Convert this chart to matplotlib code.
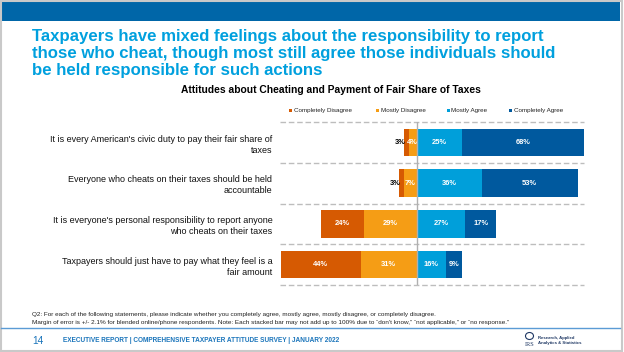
import matplotlib
matplotlib.use("Agg")
import matplotlib.pyplot as plt
from matplotlib.patches import Rectangle, Ellipse
from matplotlib.lines import Line2D

plt.rcParams['font.family'] = ['Liberation Sans', 'DejaVu Sans']

# data
statements = [
    "It is every American's civic duty to pay their fair share of\ntaxes",
    "Everyone who cheats on their taxes should be held\naccountable",
    "It is everyone's personal responsibility to report anyone\nwho cheats on their taxes",
    "Taxpayers should just have to pay what they feel is a\nfair amount",
]
completely_disagree = [3, 3, 24, 44]
mostly_disagree = [4, 7, 29, 31]
mostly_agree = [25, 36, 27, 16]
completely_agree = [68, 53, 17, 9]
series_names = ["Completely Disagree", "Mostly Disagree", "Mostly Agree", "Completely Agree"]

c_cd = "#D65A02"
c_md = "#F59D15"
c_ma = "#009FDA"
c_ca = "#00599E"
title_blue = "#00A0DE"
banner_blue = "#0066A8"
footer_blue = "#1B75BB"

W, H = 624, 352
fig = plt.figure(figsize=(W / 100, H / 100), dpi=100)


def fx(x):
    return x / W


def fy(y):
    return 1 - y / H


# page frame and banner
fig.patches.append(Rectangle((fx(1), fy(21)), fx(619), 20 / H, transform=fig.transFigure,
                             facecolor=banner_blue, edgecolor="none", zorder=0))
fig.patches.append(Rectangle((fx(0.5), fy(351)), fx(621), 350.5 / H, transform=fig.transFigure,
                             facecolor="none", edgecolor="#C9C9C9", linewidth=1.5, zorder=1))

# title
title_lines = [
    "Taxpayers have mixed feelings about the responsibility to report",
    "those who cheat, though most still agree those individuals should",
    "be held responsible for such actions",
]
for i, line in enumerate(title_lines):
    fig.text(fx(32), fy(36.7 + i * 16.7), line, color=title_blue, fontsize=12.1,
             fontweight="bold", ha="left", va="center")

fig.text(fx(330.5), fy(90), "Attitudes about Cheating and Payment of Fair Share of Taxes",
         fontsize=7.4, fontweight="bold", ha="center", va="center", color="black")

# legend
legend_items = [(289.3, c_cd), (376, c_md), (446.7, c_ma), (509.3, c_ca)]
for (lx, col), name in zip(legend_items, series_names):
    fig.patches.append(Rectangle((fx(lx), fy(111.7)), 3 / W, 3 / H, transform=fig.transFigure,
                                 facecolor=col, edgecolor="none"))
    fig.text(fx(lx + 4.5), fy(110.2), name, fontsize=4.5, ha="left", va="center", color="#222222")

# chart
ax = fig.add_axes([fx(280), fy(285), 304 / W, (285 - 122.3) / H])
ys = list(range(len(statements)))
bh = 0.68

left_md = [-v for v in mostly_disagree]
left_cd = [-(a + b) for a, b in zip(mostly_disagree, completely_disagree)]
ax.barh(ys, completely_disagree, left=left_cd, height=bh, color=c_cd, zorder=2)
ax.barh(ys, mostly_disagree, left=left_md, height=bh, color=c_md, zorder=2)
ax.barh(ys, mostly_agree, left=0, height=bh, color=c_ma, zorder=2)
ax.barh(ys, completely_agree, left=mostly_agree, height=bh, color=c_ca, zorder=2)

lab_kw = dict(fontsize=5.4, fontweight="bold", va="center", zorder=4)
for y in ys:
    cd, md = completely_disagree[y], mostly_disagree[y]
    ma, ca = mostly_agree[y], completely_agree[y]
    # disagree side
    cd_center = -md - cd / 2
    if cd <= 5:
        ax.text(cd_center - 3.3, y, f"{cd}%", ha="center", color="black", **lab_kw)
    else:
        ax.text(cd_center, y, f"{cd}%", ha="center", color="white", **lab_kw)
    md_center = -md / 2
    if md <= 5:
        ax.text(md_center - 0.5, y, f"{md}%", ha="center", color="white", **lab_kw)
    else:
        ax.text(md_center, y, f"{md}%", ha="center", color="white", **lab_kw)
    ax.text(ma / 2, y, f"{ma}%", ha="center", color="white", **lab_kw)
    ax.text(ma + ca / 2, y, f"{ca}%", ha="center", color="white", **lab_kw)

ax.set_xlim(-75.5, 92.5)
ax.set_ylim(3.5, -0.5)
for g in [-0.5, 0.5, 1.5, 2.5, 3.5]:
    ax.axhline(g, color="#BDBDBD", linewidth=1.0, linestyle=(0, (4, 2)), zorder=1, clip_on=False)
ax.axvline(0, color="#B0B0B0", linewidth=1.0, zorder=3)

ax.set_yticks(ys)
ax.set_yticklabels(statements, fontsize=6.5, linespacing=1.3, color="#111111")
ax.tick_params(axis="y", length=0, pad=5.5)
ax.set_xticks([])
for s in ax.spines.values():
    s.set_visible(False)
ax.patch.set_alpha(0)

# footnote
fig.text(fx(32), fy(314.3),
         "Q2: For each of the following statements, please indicate whether you completely agree, "
         "mostly agree, mostly disagree, or completely disagree.",
         fontsize=4.6, ha="left", va="center", color="#222222")
fig.text(fx(32), fy(322.3),
         "Margin of error is +/- 2.1% for blended online/phone respondents. Note: Each stacked bar may "
         "not add up to 100% due to \u201cdon't know,\u201d \u201cnot applicable,\u201d or \u201cno response.\u201d",
         fontsize=4.6, ha="left", va="center", color="#222222")

fig.add_artist(Line2D([fx(1), fx(620)], [fy(328.3), fy(328.3)], transform=fig.transFigure,
                      color="#5B9BD5", linewidth=1.0))

# footer
fig.text(fx(32), fy(340.7), "14", fontsize=7.3, color=footer_blue, ha="left", va="center")
fig.text(fx(63.3), fy(341), "EXECUTIVE REPORT | COMPREHENSIVE TAXPAYER ATTITUDE SURVEY | JANUARY 2022",
         fontsize=4.7, fontweight="bold", color=footer_blue, ha="left", va="center")

# logo
fig.patches.append(Ellipse((fx(529.5), fy(336)), 8 / W, 7 / H, transform=fig.transFigure,
                           facecolor="none", edgecolor="#1F3864", linewidth=0.8))
fig.text(fx(529.5), fy(344.5), "IRS", fontsize=4.5, family="Liberation Serif", color="#1F3864",
         ha="center", va="center")
fig.text(fx(538.3), fy(337.7), "Research, Applied", fontsize=3.1, fontweight="bold",
         color="#1F3864", ha="left", va="center")
fig.text(fx(538.3), fy(342.7), "Analytics & Statistics", fontsize=3.1, fontweight="bold",
         color="#1F3864", ha="left", va="center")

fig.savefig("out.png", dpi=100)
